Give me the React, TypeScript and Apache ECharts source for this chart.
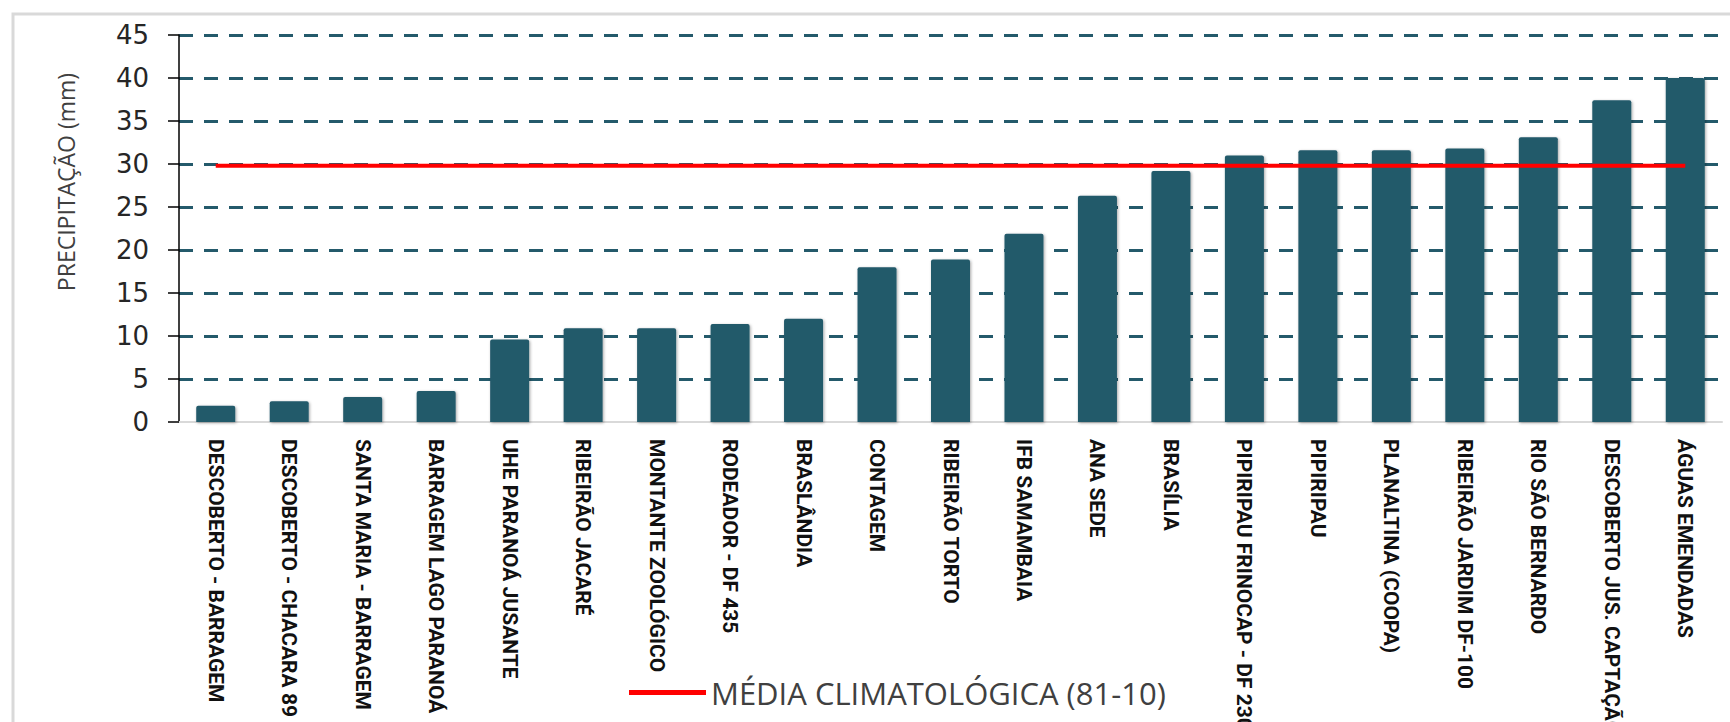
import React, { useEffect, useRef } from "react";
import * as echarts from "echarts";

const categories = [
  "DESCOBERTO - BARRAGEM",
  "DESCOBERTO - CHACARA 89",
  "SANTA MARIA - BARRAGEM",
  "BARRAGEM LAGO PARANOÁ",
  "UHE PARANOÁ JUSANTE",
  "RIBEIRÃO JACARÉ",
  "MONTANTE ZOOLÓGICO",
  "RODEADOR - DF 435",
  "BRASLÂNDIA",
  "CONTAGEM",
  "RIBEIRÃO TORTO",
  "IFB SAMAMBAIA",
  "ANA SEDE",
  "BRASÍLIA",
  "PIPIRIPAU FRINOCAP - DF 230",
  "PIPIRIPAU",
  "PLANALTINA (COOPA)",
  "RIBEIRÃO JARDIM DF-100",
  "RIO SÃO BERNARDO",
  "DESCOBERTO JUS. CAPTAÇÃO",
  "ÁGUAS EMENDADAS",
];

const precipitation = [
  1.9, 2.4, 2.9, 3.6, 9.6, 10.9, 10.9, 11.4, 12.0, 18.0, 18.9, 21.9, 26.3, 29.2,
  31.0, 31.6, 31.6, 31.8, 33.1, 37.4, 40.0,
];

const climatology = [
  29.8, 29.8, 29.8, 29.8, 29.8, 29.8, 29.8, 29.8, 29.8, 29.8, 29.8, 29.8, 29.8,
  29.8, 29.8, 29.8, 29.8, 29.8, 29.8, 29.8, 29.8,
];

const yTicks = { min: 0, max: 45, interval: 5 };
const yAxisTitle = "PRECIPITAÇÃO (mm)";
const barName = "PRECIPITAÇÃO";
const lineName = "MÉDIA CLIMATOLÓGICA (81-10)";

export default function App() {
  const ref = useRef<HTMLDivElement>(null);
  useEffect(() => {
    if (!ref.current) return;
    const chart = echarts.init(ref.current, undefined, { renderer: "svg" });
    chart.setOption({
      animation: false,
      backgroundColor: "#ffffff",
      grid: {
        left: 179,
        right: 8,
        top: 35,
        bottom: 300,
        containLabel: false,
        outerBoundsMode: "none",
      },
      legend: {
        data: [lineName],
        left: 629,
        top: 677,
        padding: 0,
        icon: "rect",
        itemWidth: 77,
        itemHeight: 5,
        itemGap: 10,
        textStyle: { fontSize: 31, color: "#404040", fontFamily: "Open Sans" },
      },
      xAxis: {
        type: "category",
        data: categories,
        axisLine: { show: true, lineStyle: { color: "#d9d9d9", width: 2 } },
        axisTick: { show: false },
        axisLabel: {
          rotate: -90,
          interval: 0,
          margin: 17,
          fontSize: 21,
          fontWeight: "bold",
          color: "#111111",
          fontFamily: "Roboto",
        },
      },
      yAxis: {
        type: "value",
        min: yTicks.min,
        max: yTicks.max,
        interval: yTicks.interval,
        axisLine: { show: true, lineStyle: { color: "#000000", width: 1.5 } },
        axisTick: { show: true, length: 11, lineStyle: { color: "#000000", width: 1.5 } },
        axisLabel: {
          margin: 30,
          fontSize: 26,
          color: "#262626",
          fontFamily: "DejaVu Sans",
        },
        splitLine: {
          show: true,
          showMinLine: false,
          lineStyle: { color: "#245a6b", width: 3, type: [14, 11] },
        },
      },
      series: [
        {
          name: barName,
          type: "bar",
          data: precipitation,
          barWidth: 39,
          itemStyle: {
            color: "#245a6b",
            borderRadius: [2, 2, 0, 0],
            shadowBlur: 3,
            shadowColor: "rgba(0,0,0,0.35)",
            shadowOffsetX: 1,
            shadowOffsetY: 1,
          },
          z: 2,
        },
        {
          name: lineName,
          type: "line",
          data: climatology,
          symbol: "none",
          lineStyle: { color: "#ff0000", width: 4 },
          itemStyle: { color: "#ff0000" },
          z: 3,
        },
      ],
      graphic: [
        {
          type: "rect",
          z: 0,
          shape: { x: 13, y: 14, width: 1800, height: 800 },
          style: { fill: "none", stroke: "#d9d9d9", lineWidth: 3 },
          silent: true,
        },
        {
          type: "text",
          x: 66,
          y: 182,
          rotation: Math.PI / 2,
          style: {
            text: yAxisTitle,
            fontSize: 23,
            fontFamily: "Open Sans",
            fill: "#404040",
            align: "center",
            verticalAlign: "middle",
            textAlign: "center",
            textVerticalAlign: "middle",
          },
        },
      ],
    });
    return () => chart.dispose();
  }, []);
  return (
    <div
      ref={ref}
      style={{ position: "fixed", left: 0, top: 0, width: 1730, height: 722 }}
    />
  );
}
